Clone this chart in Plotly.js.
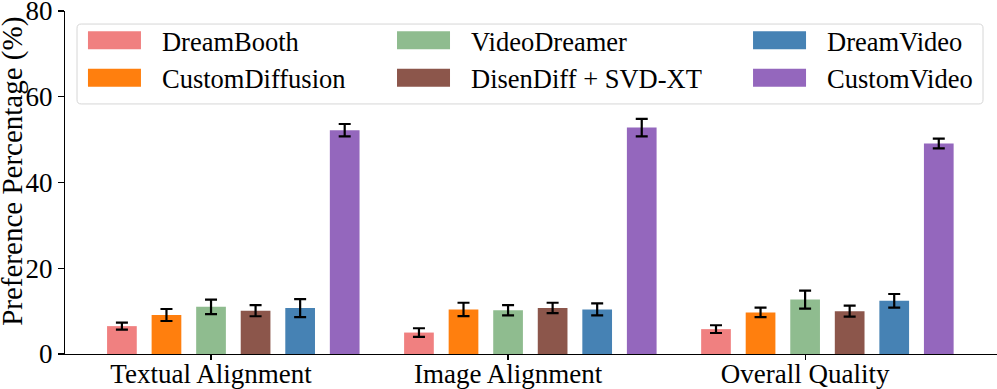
<!DOCTYPE html>
<html>
<head>
<meta charset="utf-8">
<script src="https://cdn.plot.ly/plotly-3.0.1.min.js"></script>
<style>
  html, body { margin: 0; padding: 0; background: #fff; }
  #myDiv { width: 997px; height: 389px; }
</style>
</head>
<body>
<div id="myDiv"></div>
<script>
var categories = ['Textual Alignment', 'Image Alignment', 'Overall Quality'];
var methods = ['DreamBooth', 'CustomDiffusion', 'VideoDreamer', 'DisenDiff + SVD-XT', 'DreamVideo', 'CustomVideo'];
var colors = ['#F08080', '#FF7F0E', '#8FBC8F', '#8C564B', '#4682B4', '#9467BD'];

// preference (%) per method, one value per category
var dreamBooth      = [6.5, 5.0, 5.8];
var customDiffusion = [9.1, 10.4, 9.7];
var videoDreamer    = [11.0, 10.2, 12.7];
var disenDiff       = [10.1, 10.75, 10.0];
var dreamVideo      = [10.7, 10.4, 12.4];
var customVideo     = [52.2, 52.8, 49.1];

// error bar half-lengths
var dreamBoothErr      = [0.8, 1.0, 0.9];
var customDiffusionErr = [1.4, 1.55, 1.1];
var videoDreamerErr    = [1.7, 1.2, 2.1];
var disenDiffErr       = [1.3, 1.2, 1.3];
var dreamVideoErr      = [2.1, 1.4, 1.6];
var customVideoErr     = [1.45, 2.05, 1.15];

var values = [dreamBooth, customDiffusion, videoDreamer, disenDiff, dreamVideo, customVideo];
var errors = [dreamBoothErr, customDiffusionErr, videoDreamerErr, disenDiffErr, dreamVideoErr, customVideoErr];

var yTitle = 'Preference Percentage (%)';

// legend columns (matplotlib ncol=3, filled column by column)
var legendIds = ['legend', 'legend', 'legend2', 'legend2', 'legend3', 'legend3'];

var step = 0.15, barW = 0.1;
var font = '"Liberation Serif", serif';
var tickSize = 27, legendSize = 26.5, titleSize = 29;

var data = methods.map(function (name, i) {
  return {
    type: 'bar',
    name: name,
    x: categories,
    y: values[i],
    offset: (i - 2) * step - barW / 2,
    width: barW,
    marker: {color: colors[i], line: {width: 0}},
    error_y: {type: 'data', array: errors[i], color: '#000', thickness: 2.2, width: 6},
    legend: legendIds[i]
  };
});

function legendCol(x) {
  return {
    orientation: 'v',
    x: x, xanchor: 'left',
    y: 0.984, yanchor: 'top',
    bgcolor: 'rgba(0,0,0,0)',
    borderwidth: 0,
    itemwidth: 70,
    traceorder: 'normal',
    font: {family: font, size: legendSize, color: '#000'}
  };
}

// frame round the three legend columns, rounded corners
function roundBox(x0, y0, x1, y1, rx, ry) {
  return 'M' + (x0 + rx) + ',' + y0 + ' L' + (x1 - rx) + ',' + y0 +
    ' Q' + x1 + ',' + y0 + ' ' + x1 + ',' + (y0 + ry) +
    ' L' + x1 + ',' + (y1 - ry) + ' Q' + x1 + ',' + y1 + ' ' + (x1 - rx) + ',' + y1 +
    ' L' + (x0 + rx) + ',' + y1 + ' Q' + x0 + ',' + y1 + ' ' + x0 + ',' + (y1 - ry) +
    ' L' + x0 + ',' + (y0 + ry) + ' Q' + x0 + ',' + y0 + ' ' + (x0 + rx) + ',' + y0 + ' Z';
}

var layout = {
  width: 997,
  height: 389,
  margin: {l: 65, r: 0, t: 11, b: 35},
  barmode: 'overlay',
  paper_bgcolor: '#fff',
  plot_bgcolor: '#fff',
  font: {family: font, size: tickSize, color: '#000'},
  showlegend: true,
  legend: legendCol(0.0182),
  legend2: legendCol(0.3498),
  legend3: legendCol(0.7318),
  shapes: [{
    type: 'path',
    xref: 'paper', yref: 'paper',
    path: roundBox(0.0129, 0.729, 0.985, 0.962, 0.0045, 0.012),
    fillcolor: 'rgba(255,255,255,0.8)',
    line: {color: '#d6d6d6', width: 1},
    layer: 'above'
  }],
  annotations: [{
    text: yTitle,
    xref: 'paper', yref: 'paper',
    x: -0.0558, y: 0.534,
    xanchor: 'center', yanchor: 'middle',
    textangle: -90,
    showarrow: false,
    borderpad: 0,
    font: {family: font, size: titleSize, color: '#000'}
  }],
  xaxis: {
    type: 'category',
    range: [-0.4916, 2.646],
    showgrid: false,
    zeroline: false,
    showline: true,
    linecolor: '#000',
    linewidth: 1.2,
    ticks: 'outside',
    ticklen: 5,
    tickwidth: 1.2,
    tickcolor: '#000',
    ticklabelstandoff: -10,
    tickfont: {family: font, size: tickSize, color: '#000'}
  },
  yaxis: {
    range: [0, 80],
    tickvals: [0, 20, 40, 60, 80],
    ticklabeloverflow: 'allow',
    showgrid: false,
    zeroline: false,
    showline: true,
    linecolor: '#000',
    linewidth: 1.2,
    ticks: 'outside',
    ticklen: 6,
    tickwidth: 1.2,
    tickcolor: '#000',
    tickfont: {family: font, size: tickSize, color: '#000'}
  }
};

Plotly.newPlot('myDiv', data, layout, {displayModeBar: false, staticPlot: true}).then(function () {
  // widen the legend swatches like matplotlib handles
  document.querySelectorAll('#myDiv .legendpoints path').forEach(function (p) {
    p.setAttribute('d', 'M-34,-9H19V9H-34Z');
  });
});
</script>
</body>
</html>
